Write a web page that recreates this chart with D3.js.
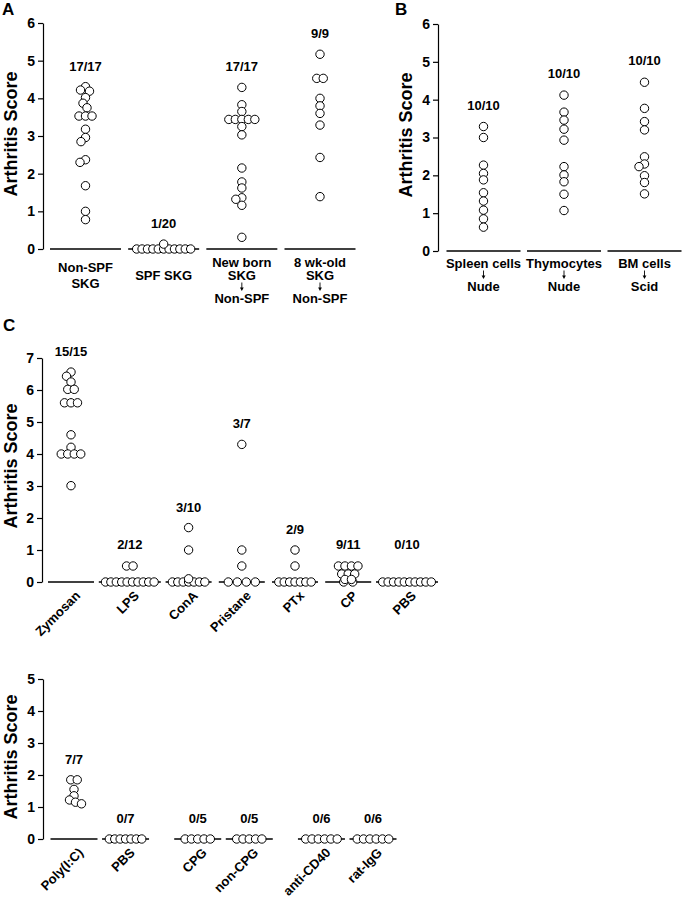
<!DOCTYPE html>
<html><head><meta charset="utf-8">
<script src="https://cdn.jsdelivr.net/npm/d3@7"></script>
<style>body{margin:0;background:#fff}</style>
</head><body><svg id="c" width="682" height="899"></svg>
<script>
// ===== DATA =====
// Panel A
const labelLinesA = [["Non-SPF","SKG"],["SPF SKG"],["New born","SKG","↓","Non-SPF"],["8 wk-old","SKG","↓","Non-SPF"]];
const fracA = ["17/17","1/20","17/17","9/9"];
const nonSPF = [4.31,4.22,4.19,4.02,3.87,3.75,3.53,3.53,3.53,3.18,2.96,2.85,2.37,2.30,1.68,1.00,0.78];
const spfSKG = [0.13,0,0,0,0,0,0,0,0,0,0,0,0,0,0,0,0,0,0,0];
const newBorn = [4.29,3.83,3.65,3.44,3.44,3.44,3.44,3.44,3.25,3.03,2.15,1.78,1.62,1.36,1.32,1.16,0.31];
const eightWk = [5.17,4.53,4.53,4.00,3.80,3.60,3.29,2.43,1.39];
// Panel B
const labelLinesB = [["Spleen cells","↓","Nude"],["Thymocytes","↓","Nude"],["BM cells","↓","Scid"]];
const fracB = ["10/10","10/10","10/10"];
const spleen = [3.29,3.00,2.27,2.05,1.88,1.54,1.32,1.08,0.85,0.63];
const thymo = [4.12,3.67,3.46,3.22,2.93,2.23,2.01,1.83,1.50,1.07];
const bmCells = [4.46,3.77,3.42,3.20,2.49,2.30,2.23,1.99,1.81,1.51];
// Panel C (top)
const catsC = ["Zymosan","LPS","ConA","Pristane","PTx","CP","PBS"];
const fracC = ["15/15","2/12","3/10","3/7","2/9","9/11","0/10"];
const zymosan = [6.56,6.43,6.25,6.02,6.02,5.60,5.60,5.60,4.60,4.21,4.00,4.00,4.00,4.00,3.01];
const lps = [0.5,0.5,0,0,0,0,0,0,0,0,0,0];
const conA = [1.7,1.0,0.1,0,0,0,0,0,0,0];
const pristane = [4.3,1.0,0.5,0,0,0,0];
const ptx = [1.0,0.5,0,0,0,0,0,0,0];
const cp = [0.5,0.5,0.5,0.5,0.25,0.25,0.25,0.08,0.08,0,0];
const pbsC = [0,0,0,0,0,0,0,0,0,0];
// Panel C (bottom)
const catsD = ["Poly(I:C)","PBS","CPG","non-CPG","anti-CD40","rat-IgG"];
const fracD = ["7/7","0/7","0/5","0/5","0/6","0/6"];
const polyIC = [1.85,1.85,1.55,1.35,1.22,1.15,1.10];
const pbsD = [0,0,0,0,0,0,0];
const cpg = [0,0,0,0,0];
const nonCpg = [0,0,0,0,0];
const antiCD40 = [0,0,0,0,0,0];
const ratIgG = [0,0,0,0,0,0];

// ===== LAYOUT =====
const FONT = "'Liberation Sans', Arial, Helvetica, sans-serif";
const R = 4.2;
const svg = d3.select("#c");

const panels = [
  {letter:"A", letterPos:[2,15], lines:labelLinesA, fracs:fracA, groups:[nonSPF,spfSKG,newBorn,eightWk],
   yMax:6, axisX:43, yTop:23, yBottom:249, slots:[0,1,2,3], cFirst:85.5, cLast:320, segFixed:71,
   rotated:false, labelGap:16, ylab:[17,134]},
  {letter:"B", letterPos:[395,15], lines:labelLinesB, fracs:fracB, groups:[spleen,thymo,bmCells],
   yMax:6, axisX:438, yTop:24, yBottom:251, slots:[0,1,2], cFirst:483.5, cLast:644.5, segFixed:74,
   rotated:false, labelGap:17, ylab:[412,135]},
  {letter:"C", letterPos:[3,331], cats:catsC, fracs:fracC, groups:[zymosan,lps,conA,pristane,ptx,cp,pbsC],
   yMax:7, axisX:42, yTop:358, yBottom:582, slots:[0,1.05,2.1,3.05,4,4.95,6], cFirst:71, cLast:407, segMin:46,
   rotated:true, labelGap:16, labelFloor:33, ylab:[17,466]},
  {letter:null, cats:catsD, fracs:fracD, groups:[polyIC,pbsD,cpg,nonCpg,antiCD40,ratIgG],
   yMax:5, axisX:43, yTop:679, yBottom:839, slots:[0,1,2.4,3.4,4.8,5.8], cFirst:74, cLast:373, segMin:47,
   rotated:true, labelGap:16, ylab:[17,757]}
];

function zeroSpacing(n){ return n<=4 ? 9 : (n<=6 ? 6.3 : 5.4); }

function layoutGroup(values, y, minDist, sp){
  const nz = values.filter(v => v !== 0);
  const nZero = values.length - nz.length;
  const rows = d3.groups(nz, v => v).sort((a,b) => b[0]-a[0]);
  const placed = [];
  for (const [v, arr] of rows){
    const yy = y(v), k = arr.length;
    const base = d3.range(k).map(i => (i - (k-1)/2)*sp);
    let c = 0;
    for (let step=0; step<400; step++){
      const cand = step===0 ? 0 : (step%2 ? -1 : 1)*Math.ceil(step/2)*0.5;
      const ok = base.every(b => placed.every(p => Math.hypot(p.dx-(b+cand), p.y-yy) >= minDist));
      if (ok){ c = cand; break; }
    }
    base.forEach(b => placed.push({dx:b+c, y:yy, v}));
  }
  const k = Math.min(nZero, 11);
  const s = zeroSpacing(nZero);
  const zeros = d3.range(k).map(i => ({dx:(i-(k-1)/2)*s, y:y(0), v:0}));
  return {placed, zeros, rowWidth: k>0 ? (k-1)*s + 2*R + 1 : 0};
}

panels.forEach(P => {
  const g = svg.append("g");
  const y = d3.scaleLinear().domain([0, P.yMax]).range([P.yBottom, P.yTop]);
  const last = P.slots[P.slots.length-1];
  const x = d3.scaleLinear().domain([0, last]).range([P.cFirst, P.cLast]);

  // axis
  const ax = g.append("g").attr("transform", `translate(${P.axisX},0)`)
    .call(d3.axisLeft(y).tickValues(d3.range(0, P.yMax+1)).tickSize(5).tickSizeOuter(0).tickPadding(3).tickFormat(d3.format("d")));
  ax.selectAll("path,line").attr("stroke","#000").attr("stroke-width",1.2);
  ax.selectAll("text").attr("font-family",FONT).attr("font-size",14).attr("font-weight","bold").attr("fill","#000");

  // y label
  g.append("text").attr("transform", `translate(${P.ylab[0]},${P.ylab[1]}) rotate(-90)`)
    .attr("text-anchor","middle").attr("font-family",FONT).attr("font-size",18).attr("font-weight","bold")
    .attr("textLength",125).attr("lengthAdjust","spacingAndGlyphs")
    .text("Arthritis Score");
  if (P.letter){
    g.append("text").attr("x",P.letterPos[0]).attr("y",P.letterPos[1]).attr("font-family",FONT)
      .attr("font-size",17).attr("font-weight","bold").text(P.letter);
  }

  const y0 = y(0);
  P.groups.forEach((vals, i) => {
    const cx = x(P.slots[i]);
    const L = layoutGroup(vals, y, 6, 6.5);
    const w = P.segFixed ? P.segFixed : Math.max(P.segMin, L.rowWidth + 4);
    g.append("line").attr("x1", cx-w/2).attr("x2", cx+w/2).attr("y1", y0).attr("y2", y0)
      .attr("stroke","#000").attr("stroke-width",1.3);
    const pts = L.zeros.concat(L.placed);
    g.selectAll(null).data(pts).enter().append("circle")
      .attr("cx", d => cx + d.dx).attr("cy", d => d.y).attr("r", R)
      .attr("fill","#fff").attr("stroke","#000").attr("stroke-width",1);

    // fraction label
    const mx = d3.max(vals);
    let ly = y(mx) - P.labelGap;
    if (P.labelFloor) ly = Math.min(ly, y0 - P.labelFloor);
    g.append("text").attr("x", cx).attr("y", ly).attr("text-anchor","middle")
      .attr("font-family",FONT).attr("font-size",13).attr("font-weight","bold").text(P.fracs[i]);

    // category labels
    if (P.rotated){
      g.append("text").attr("transform", `translate(${cx+10},${y0+14.5}) rotate(-45)`)
        .attr("text-anchor","end").attr("font-family",FONT).attr("font-size",13).attr("font-weight","bold")
        .text(P.cats[i]);
    } else {
      const lines = P.lines[i];
      const n = lines.length;
      let by = y0 + (n===1 ? 31 : n===2 ? 22.5 : (n===3 ? 17 : 17.5));
      let first = true;
      lines.forEach(t => {
        if (t === "↓"){
          const a = by + 2.5;
          g.append("line").attr("x1",cx).attr("x2",cx).attr("y1",a).attr("y2",a+6)
            .attr("stroke","#000").attr("stroke-width",0.9);
          g.append("path").attr("d",`M${cx-1.9},${a+5}L${cx+1.9},${a+5}L${cx},${a+8.5}Z`).attr("fill","#000");
          by += 22.5; first = true;
        } else {
          if (!first) by += (n===2 ? 16 : 13.5);
          g.append("text").attr("x",cx).attr("y",by).attr("text-anchor","middle")
            .attr("font-family",FONT).attr("font-size",13).attr("font-weight","bold").text(t);
          first = false;
        }
      });
    }
  });
});
</script></body></html>
